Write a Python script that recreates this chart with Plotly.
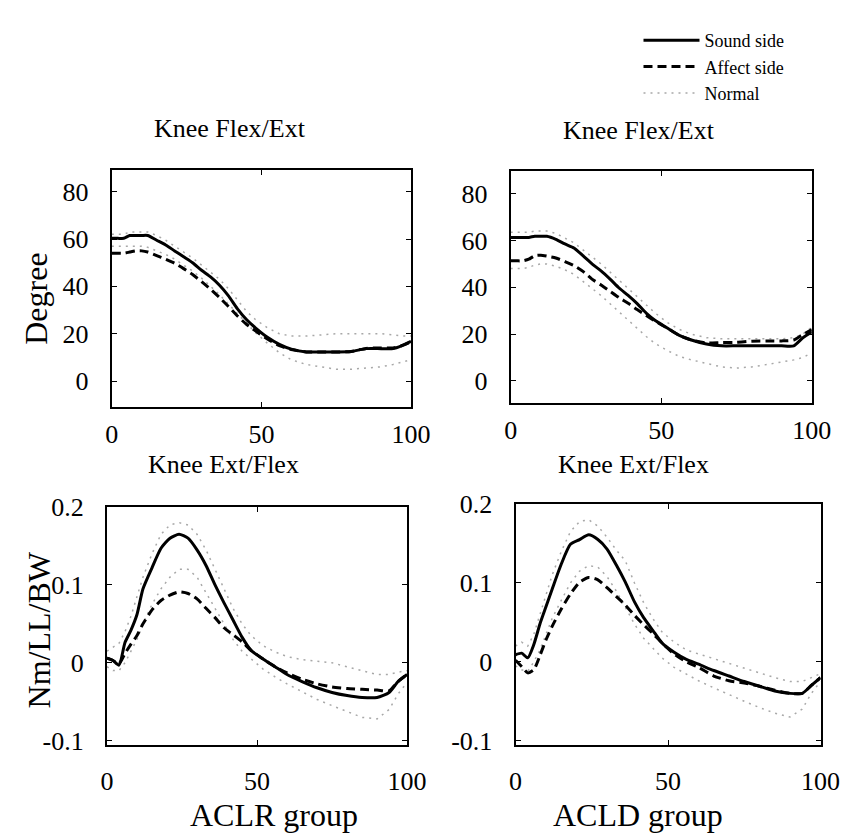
import plotly.graph_objects as go

# ---------------- data ----------------
pct = [0, 2, 4, 6, 8, 10, 12, 15, 18, 21, 24, 27, 30, 33, 36, 39, 42, 45, 48,
       52, 56, 60, 65, 70, 75, 80, 85, 90, 94, 97, 100]

# Knee Flex/Ext angle (degree), ACLR group
aclr_flex_sound = [60.3, 60.3, 60.3, 61.5, 61.5, 61.5, 61.5, 59.5, 57.5, 55, 52.5, 50, 46.8, 44, 40.5,
                   36, 30.5, 26, 22.5, 18.5, 15.5, 13.5, 12.3, 12.3, 12.3, 12.5, 13.7, 13.7, 13.7, 15, 16.8]
aclr_flex_affect = [54, 54, 54, 54.5, 55, 55, 54.5, 53, 51.5, 49.8, 47.5, 45, 42, 38.8, 35.3,
                    31.5, 27.5, 24, 21.2, 17.8, 15, 13.3, 12.3, 12.3, 12.3, 12.5, 13.8, 14, 14, 15, 16.5]
aclr_flex_norm_hi = [62, 62, 62, 63, 63, 63, 63, 61.5, 59.5, 57, 54.5, 52, 49, 46, 43,
                     39, 34, 29.5, 26, 22.5, 20, 19, 19, 19.5, 20, 20, 20, 20, 19.5, 19, 19]
aclr_flex_norm_lo = [57, 57, 57, 57, 57, 57, 56.5, 55, 53.5, 51.5, 49, 46.5, 43.5, 40, 36.5,
                     32.5, 28.5, 24.5, 20.5, 16, 12, 9, 7, 6, 5, 5, 5.5, 6, 7, 8, 9]

# Knee Flex/Ext angle (degree), ACLD group
acld_flex_sound = [61.3, 61.3, 61.3, 61.3, 61.8, 61.8, 61.8, 60.5, 58.5, 56.8, 53.5, 50, 47, 43.5, 39.7,
                   36.5, 33, 29, 25.8, 22.6, 19.5, 17.5, 15.8, 15, 15, 15, 15, 15, 15, 18.4, 21]
acld_flex_affect = [51.3, 51.3, 51.3, 52, 53.5, 53.7, 53.3, 52.5, 51, 49.3, 46.8, 43.5, 41, 38.3, 35.6,
                    33.2, 30.5, 28, 25.5, 22.6, 19.5, 17.5, 16.2, 16.4, 16.5, 17, 17.1, 17.1, 17.5, 19.8, 21.9]
acld_flex_norm_hi = [63.5, 63.5, 63.5, 63.5, 64, 64, 64, 63, 61, 59, 56, 53, 50, 46.5, 43,
                     39.5, 36, 32.5, 29, 25, 22, 20, 18.5, 18, 18, 18, 18, 18, 18.5, 20, 23]
acld_flex_norm_lo = [48, 48, 48, 48.5, 49.5, 50, 50, 49, 47.5, 45.5, 42.5, 39.5, 36.5, 33, 29.5,
                     26, 22.5, 19, 16, 13, 10.5, 9, 7.5, 6, 5.5, 6, 7, 8, 9, 10, 12]

# Knee Ext/Flex moment (Nm/LL/BW), ACLR group
aclr_mom_sound = [0.006, 0.003, -0.003, 0.026, 0.042, 0.062, 0.095, 0.122, 0.147, 0.16, 0.165, 0.16, 0.145,
                  0.125, 0.1, 0.077, 0.055, 0.033, 0.016, 0.005, -0.005, -0.015, -0.024, -0.032, -0.038,
                  -0.042, -0.0445, -0.0445, -0.038, -0.024, -0.015]
aclr_mom_affect = [0.006, 0.003, -0.001, 0.012, 0.024, 0.035, 0.05, 0.068, 0.08, 0.087, 0.091, 0.089, 0.082,
                   0.07, 0.058, 0.045, 0.036, 0.027, 0.016, 0.005, -0.005, -0.013, -0.021, -0.027, -0.031,
                   -0.033, -0.034, -0.035, -0.036, -0.024, -0.015]
aclr_mom_norm_hi = [0.015, 0.02, 0.025, 0.04, 0.06, 0.085, 0.11, 0.14, 0.165, 0.177, 0.18, 0.177, 0.165,
                    0.145, 0.12, 0.095, 0.07, 0.05, 0.035, 0.022, 0.014, 0.008, 0.004, 0.002, 0.0,
                    -0.005, -0.01, -0.015, -0.015, -0.012, -0.01]
aclr_mom_norm_lo = [-0.005, -0.01, -0.01, 0.0, 0.015, 0.03, 0.05, 0.075, 0.095, 0.11, 0.12, 0.12, 0.11,
                    0.09, 0.07, 0.05, 0.03, 0.015, 0.005, -0.008, -0.018, -0.027, -0.037, -0.047, -0.055,
                    -0.063, -0.07, -0.072, -0.06, -0.04, -0.025]

# Knee Ext/Flex moment (Nm/LL/BW), ACLD group
acld_mom_sound = [0.009, 0.011, 0.005, 0.022, 0.048, 0.07, 0.092, 0.124, 0.149, 0.155, 0.161, 0.155, 0.143,
                  0.123, 0.101, 0.076, 0.056, 0.04, 0.024, 0.012, 0.003, -0.003, -0.011, -0.018, -0.025,
                  -0.031, -0.037, -0.04, -0.04, -0.03, -0.02]
acld_mom_affect = [0.002, -0.006, -0.014, -0.01, 0.008, 0.028, 0.045, 0.067, 0.086, 0.101, 0.107, 0.104, 0.094,
                   0.083, 0.072, 0.059, 0.047, 0.036, 0.024, 0.01, 0.0, -0.007, -0.018, -0.024, -0.027,
                   -0.031, -0.036, -0.04, -0.04, -0.03, -0.02]
acld_mom_norm_hi = [0.02, 0.025, 0.02, 0.035, 0.06, 0.085, 0.11, 0.14, 0.165, 0.178, 0.18, 0.172, 0.158,
                    0.142, 0.128, 0.1, 0.075, 0.055, 0.038, 0.025, 0.015, 0.01, 0.004, -0.002, -0.008,
                    -0.014, -0.02, -0.025, -0.025, -0.02, -0.015]
acld_mom_norm_lo = [-0.005, -0.01, -0.012, 0.0, 0.015, 0.035, 0.055, 0.078, 0.1, 0.115, 0.122, 0.12, 0.108,
                    0.09, 0.068, 0.048, 0.03, 0.018, 0.005, -0.007, -0.016, -0.024, -0.033, -0.042, -0.05,
                    -0.058, -0.065, -0.07, -0.06, -0.04, -0.025]

x_ticks = [0, 50, 100]
angle_ticks = [0, 20, 40, 60, 80]
moment_ticks = [-0.1, 0, 0.1, 0.2]
moment_tick_text = ["-0.1", "0", "0.1", "0.2"]

panel_titles = ["Knee Flex/Ext", "Knee Flex/Ext", "Knee Ext/Flex", "Knee Ext/Flex"]
group_titles = ["ACLR group", "ACLD group"]
series_names = ["Sound side", "Affect side", "Normal"]

# ---------------- figure ----------------
W, H = 848, 833
FONT = "Liberation Serif, Times New Roman, Times, serif"
fig = go.Figure()

panels = [
    ("x", "y", aclr_flex_sound, aclr_flex_affect, aclr_flex_norm_hi, aclr_flex_norm_lo),
    ("x2", "y2", acld_flex_sound, acld_flex_affect, acld_flex_norm_hi, acld_flex_norm_lo),
    ("x3", "y3", aclr_mom_sound, aclr_mom_affect, aclr_mom_norm_hi, aclr_mom_norm_lo),
    ("x4", "y4", acld_mom_sound, acld_mom_affect, acld_mom_norm_hi, acld_mom_norm_lo),
]

for i, (xa, ya, snd, aff, nhi, nlo) in enumerate(panels):
    first = i == 0
    fig.add_trace(go.Scatter(x=pct, y=nhi, xaxis=xa, yaxis=ya, mode="lines",
                             line=dict(color="#a8a8a8", width=1.5, dash="2px,5px"),
                             name=series_names[2], legendrank=3, showlegend=first))
    fig.add_trace(go.Scatter(x=pct, y=nlo, xaxis=xa, yaxis=ya, mode="lines",
                             line=dict(color="#a8a8a8", width=1.5, dash="2px,5px"),
                             name=series_names[2], showlegend=False))
    fig.add_trace(go.Scatter(x=pct, y=aff, xaxis=xa, yaxis=ya, mode="lines",
                             line=dict(color="black", width=3, dash="9px,5px", shape="spline", smoothing=0.6),
                             name=series_names[1], legendrank=2, showlegend=first))
    fig.add_trace(go.Scatter(x=pct, y=snd, xaxis=xa, yaxis=ya, mode="lines",
                             line=dict(color="black", width=3, shape="spline", smoothing=0.6),
                             name=series_names[0], legendrank=1, showlegend=first))


def px_x(a, b):
    return [a / W, b / W]


def px_y(top, bottom):
    return [1 - bottom / H, 1 - top / H]


def pos(x, y):
    return x / W, 1 - y / H


tick_font = dict(family=FONT, size=26, color="black")
common_x = dict(range=[0, 100], tickvals=x_ticks, ticks="inside", ticklen=5, tickcolor="black",
                showline=True, linecolor="black", linewidth=2, mirror="ticks", showgrid=False,
                zeroline=False, tickfont=tick_font)
common_y = dict(ticks="inside", ticklen=5, tickcolor="black", showline=True, linecolor="black",
                linewidth=2, mirror="ticks", showgrid=False, zeroline=False, tickfont=tick_font)

fig.update_layout(
    xaxis=dict(domain=px_x(100, 409), anchor="y", ticklabelstandoff=3, **common_x),
    yaxis=dict(domain=px_y(153, 397), anchor="x", range=[-11, 89], tickvals=angle_ticks,
               ticklabelstandoff=16, **common_y),
    xaxis2=dict(domain=px_x(512, 823), anchor="y2", ticklabelstandoff=3, **common_x),
    yaxis2=dict(domain=px_y(154, 393), anchor="x2", range=[-9.5, 89.5], tickvals=angle_ticks,
                ticklabelstandoff=16, **common_y),
    xaxis3=dict(domain=px_x(95, 405), anchor="y3", ticklabelstandoff=12, **common_x),
    yaxis3=dict(domain=px_y(500, 745), anchor="x3", range=[-0.105, 0.2], tickvals=moment_ticks,
                ticktext=moment_tick_text, ticklabelstandoff=16, **common_y),
    xaxis4=dict(domain=px_x(517, 832), anchor="y4", ticklabelstandoff=12, **common_x),
    yaxis4=dict(domain=px_y(497, 745), anchor="x4", range=[-0.105, 0.2], tickvals=moment_ticks,
                ticktext=moment_tick_text, ticklabelstandoff=16, **common_y),
)

annots = []
title_pos = [(222, 110), (645, 112), (215, 456), (639, 456)]
for t, (cx, cy) in zip(panel_titles, title_pos):
    px, py = pos(cx, cy)
    annots.append(dict(text=t, x=px, y=py, xref="paper", yref="paper",
                       xanchor="center", yanchor="middle", showarrow=False,
                       font=dict(family=FONT, size=26, color="black")))
for t, cx in zip(group_titles, [268, 643]):
    px, py = pos(cx, 818)
    annots.append(dict(text=t, x=px, y=py, xref="paper", yref="paper",
                       xanchor="center", yanchor="middle", showarrow=False,
                       font=dict(family=FONT, size=32, color="black")))
for t, (cx, cy) in zip(["Degree", "Nm/LL/BW"], [(22, 285), (25, 627)]):
    px, py = pos(cx, cy)
    annots.append(dict(text=t, x=px, y=py, xref="paper", yref="paper",
                       xanchor="center", yanchor="middle", textangle=-90, showarrow=False,
                       font=dict(family=FONT, size=32, color="black")))

lx, _ = pos(644, 0)
fig.update_layout(
    width=W, height=H,
    margin=dict(l=0, r=0, t=0, b=0),
    paper_bgcolor="white", plot_bgcolor="white",
    font=dict(family=FONT, color="black"),
    annotations=annots,
    showlegend=True,
    legend=dict(x=lx, y=1, xanchor="left", yanchor="top",
                font=dict(family=FONT, size=18, color="black"),
                bgcolor="rgba(0,0,0,0)", tracegroupgap=0, itemwidth=56,
                traceorder="normal"),
)

fig.write_html("out.html")
